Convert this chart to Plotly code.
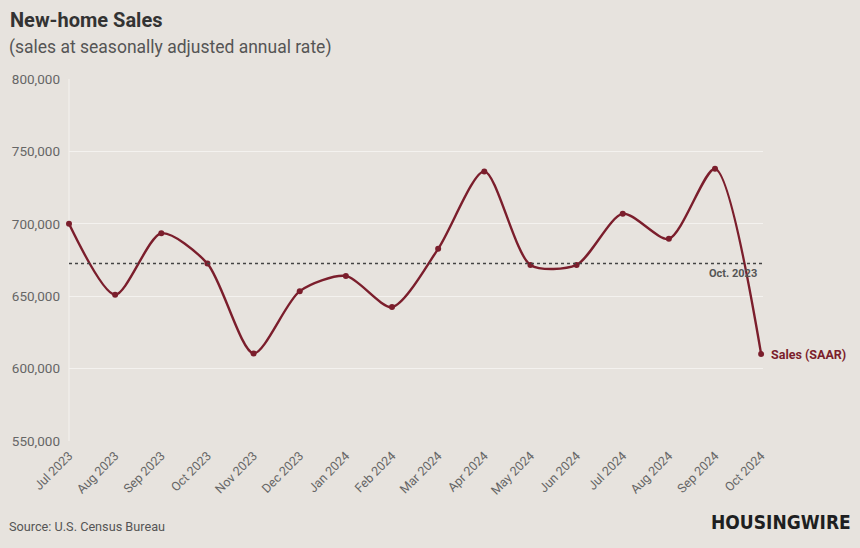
import plotly.graph_objects as go

months = ["Jul 2023", "Aug 2023", "Sep 2023", "Oct 2023", "Nov 2023", "Dec 2023",
          "Jan 2024", "Feb 2024", "Mar 2024", "Apr 2024", "May 2024", "Jun 2024",
          "Jul 2024", "Aug 2024", "Sep 2024", "Oct 2024"]
sales = [700000, 651000, 693500, 672500, 610500, 653500,
         664000, 642500, 682700, 736200, 671600, 671600,
         707000, 689600, 738000, 610000]
reference_value = 672500
reference_label = "Oct. 2023"
series_label = "Sales (SAAR)"
y_ticks = [550000, 600000, 650000, 700000, 750000, 800000]

LINE = "#7b1e2c"
BG = "#e7e3de"
GRID = "#f4f2ef"

L, R, T, B = 69, 97, 79, 107
PW, PH = 860 - L - R, 548 - T - B


def px_x(px):
    return (px - L) / PW


def px_y(py):
    return (548 - B - py) / PH


fig = go.Figure()
fig.add_trace(go.Scatter(
    x=months, y=sales, mode="lines+markers",
    line=dict(color=LINE, width=2.4, shape="spline", smoothing=0.75),
    marker=dict(color=LINE, size=6),
    cliponaxis=False, showlegend=False, hoverinfo="x+y",
))

fig.add_shape(type="line", xref="paper", x0=0, x1=1, yref="y",
              y0=reference_value, y1=reference_value,
              line=dict(color="#444444", width=1.5, dash="dot"))
fig.add_annotation(x=months[-1], y=reference_value, xref="x", yref="y",
                   text="<b>" + reference_label + "</b>", showarrow=False,
                   xanchor="right", yanchor="top", xshift=-2, yshift=-1,
                   font=dict(family="Roboto", size=11, color="#555555"))
fig.add_annotation(x=months[-1], y=sales[-1], xref="x", yref="y",
                   text="<b>" + series_label + "</b>", showarrow=False,
                   xanchor="left", yanchor="middle", xshift=8,
                   font=dict(family="Roboto", size=12.5, color=LINE))

fig.update_layout(
    width=860, height=548,
    paper_bgcolor=BG, plot_bgcolor=BG,
    margin=dict(l=L, r=R, t=T, b=B),
    font=dict(family="Roboto", color="#666666"),
    xaxis=dict(
        type="category", range=[0, 15.04], tickangle=-45,
        showgrid=False, showline=False, zeroline=False, ticks="",
        ticklabelstandoff=4,
        tickfont=dict(family="Roboto", size=12.5, color="#666666"),
    ),
    yaxis=dict(
        range=[550000, 800000], tickvals=y_ticks, tickformat=",d",
        showgrid=True, gridcolor=GRID, gridwidth=1,
        zeroline=False, showline=False, ticks="",
        ticklabelstandoff=8,
        tickfont=dict(family="Roboto", size=13.5, color="#666666"),
    ),
)

# vertical left gridline
fig.add_shape(type="line", xref="paper", yref="paper", x0=0, x1=0, y0=0, y1=1,
              line=dict(color=GRID, width=1), layer="below")

fig.add_annotation(text="<b>New-home Sales</b>", xref="paper", yref="paper",
                   x=px_x(8), y=px_y(20), xanchor="left", yanchor="middle",
                   showarrow=False, font=dict(family="Roboto", size=20, color="#333333"))
fig.add_annotation(text="(sales at seasonally adjusted annual rate)", xref="paper", yref="paper",
                   x=px_x(7), y=px_y(48), xanchor="left", yanchor="middle",
                   showarrow=False, font=dict(family="Roboto", size=17.5, color="#555555"))
fig.add_annotation(text="Source: U.S. Census Bureau", xref="paper", yref="paper",
                   x=px_x(7), y=px_y(526), xanchor="left", yanchor="middle",
                   showarrow=False, font=dict(family="Roboto", size=12.7, color="#555555"))
fig.add_annotation(text="<b>HOUSINGWIRE</b>", xref="paper", yref="paper",
                   x=px_x(853), y=px_y(522), xanchor="right", yanchor="middle",
                   showarrow=False, font=dict(family="DejaVu Sans Condensed", size=19, color="#1e1f21"))

fig.write_html("out.html", config={"displayModeBar": False},
               post_script="document.body.style.margin='0';document.body.style.padding='0';")
